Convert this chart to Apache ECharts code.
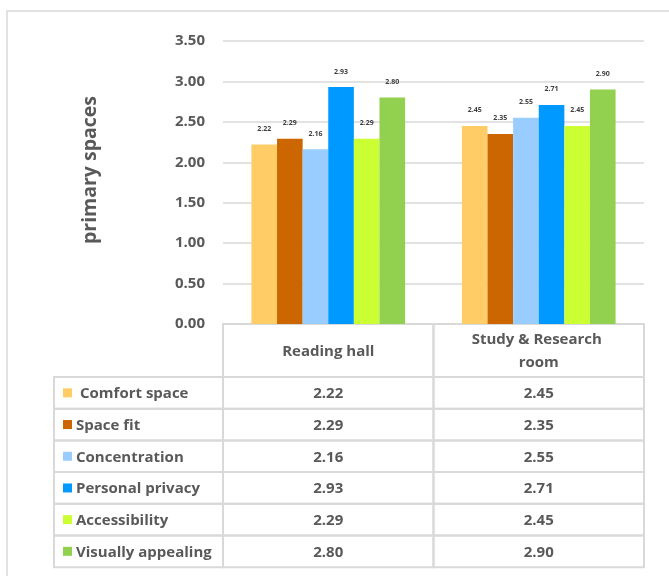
<!DOCTYPE html>
<html>
<head>
<meta charset="utf-8">
<script src="https://cdn.jsdelivr.net/npm/echarts@6/dist/echarts.min.js"></script>
<style>
  html, body { margin: 0; padding: 0; background: #fff; }
  #chart { width: 669px; height: 576px; }
</style>
</head>
<body>
<div id="chart"></div>
<script>
// Categories (columns of the data table)
const categories = ['Reading hall', 'Study & Research room'];

// Series names and their values per category
const seriesNames = ['Comfort space', 'Space fit', 'Concentration', 'Personal privacy', 'Accessibility', 'Visually appealing'];
const comfortSpace = [2.22, 2.45];
const spaceFit = [2.29, 2.35];
const concentration = [2.16, 2.55];
const personalPrivacy = [2.93, 2.71];
const accessibility = [2.29, 2.45];
const visuallyAppealing = [2.80, 2.90];
const seriesValues = [comfortSpace, spaceFit, concentration, personalPrivacy, accessibility, visuallyAppealing];

// Value axis range
const yMin = 0, yMax = 3.5, yStep = 0.5;
const yAxisTitle = 'primary spaces';

const colors = ['#FFCC66', '#CC6600', '#99CCFF', '#0099FF', '#CCFF33', '#92D050'];
const FONT = '"Open Sans", "Noto Sans", sans-serif';
const TEXT = '#595959';
const LINE = '#D9D9D9';
const FS = 15;

const chart = echarts.init(document.getElementById('chart'), null, { renderer: 'canvas' });

const series = seriesNames.map((name, i) => ({
  name,
  type: 'bar',
  data: seriesValues[i],
  barGap: '0%',
  barCategoryGap: '27%',
  itemStyle: { color: colors[i] },
  label: {
    show: true,
    position: 'top',
    distance: 12,
    formatter: p => p.value.toFixed(2),
    fontSize: 7,
    fontWeight: 'bold',
    fontFamily: FONT,
    color: '#404040'
  }
}));

chart.setOption({
  animation: false,
  grid: { left: 223, right: 25, top: 41, bottom: 252 },
  xAxis: {
    type: 'category',
    data: categories,
    axisLine: { show: false },
    axisTick: { show: false },
    axisLabel: { show: false }
  },
  yAxis: {
    type: 'value',
    min: yMin,
    max: yMax,
    interval: yStep,
    axisLine: { show: false },
    axisTick: { show: false },
    axisLabel: {
      formatter: v => v.toFixed(2),
      fontSize: FS,
      fontWeight: 'bold',
      fontFamily: FONT,
      color: TEXT,
      margin: 18
    },
    splitLine: { lineStyle: { color: LINE, width: 1.5 } }
  },
  series
});

// Data table under the plot, aligned with the category axis
function buildTable() {
  const gLeft = 223, gRight = 644;
  const headTop = 324, headBottom = 377;
  const rowH = 31.7;
  const labelLeft = 54;
  const colEdges = [gLeft];
  const centers = categories.map(c => chart.convertToPixel({ xAxisIndex: 0 }, c));
  for (let i = 0; i < centers.length - 1; i++) colEdges.push((centers[i] + centers[i + 1]) / 2);
  colEdges.push(gRight);

  const els = [];
  // outer frame of the chart area
  els.push({
    type: 'rect', shape: { x: 7, y: 11, width: 700, height: 600 },
    style: { fill: 'none', stroke: LINE, lineWidth: 1.5 }, silent: true
  });
  // header cells
  categories.forEach((c, i) => {
    els.push({
      type: 'rect',
      shape: { x: colEdges[i], y: headTop, width: colEdges[i + 1] - colEdges[i], height: headBottom - headTop },
      style: { fill: 'none', stroke: LINE, lineWidth: 2 }
    });
    els.push({
      type: 'text',
      x: centers[i], y: (headTop + headBottom) / 2 + 1,
      style: {
        text: c, width: 160, overflow: 'break', lineHeight: 23,
        align: 'center', verticalAlign: 'middle',
        fontSize: FS, fontWeight: 'bold', fontFamily: FONT, fill: TEXT
      }
    });
  });
  // rows
  seriesNames.forEach((name, r) => {
    const y0 = headBottom + r * rowH;
    els.push({
      type: 'rect', shape: { x: labelLeft, y: y0, width: gLeft - labelLeft, height: rowH },
      style: { fill: 'none', stroke: LINE, lineWidth: 2 }
    });
    els.push({
      type: 'rect', shape: { x: 63, y: y0 + rowH / 2 - 4.5, width: 9, height: 9 },
      style: { fill: colors[r] }
    });
    els.push({
      type: 'text', x: r === 0 ? 80 : 76, y: y0 + rowH / 2 + 1,
      style: {
        text: name, align: 'left', verticalAlign: 'middle',
        fontSize: FS, fontWeight: 'bold', fontFamily: FONT, fill: TEXT
      }
    });
    categories.forEach((c, i) => {
      els.push({
        type: 'rect',
        shape: { x: colEdges[i], y: y0, width: colEdges[i + 1] - colEdges[i], height: rowH },
        style: { fill: 'none', stroke: LINE, lineWidth: 2 }
      });
      els.push({
        type: 'text', x: centers[i], y: y0 + rowH / 2 + 1,
        style: {
          text: seriesValues[r][i].toFixed(2), align: 'center', verticalAlign: 'middle',
          fontSize: FS, fontWeight: 'bold', fontFamily: FONT, fill: TEXT
        }
      });
    });
  });
  // rotated value-axis title
  els.push({
    type: 'text', x: 90, y: 170, rotation: Math.PI / 2,
    style: {
      text: yAxisTitle, align: 'center', verticalAlign: 'middle',
      fontSize: 19.5, fontWeight: 'bold', fontFamily: FONT, fill: TEXT
    }
  });
  chart.setOption({ graphic: { elements: els } });
}
buildTable();
</script>
</body>
</html>
